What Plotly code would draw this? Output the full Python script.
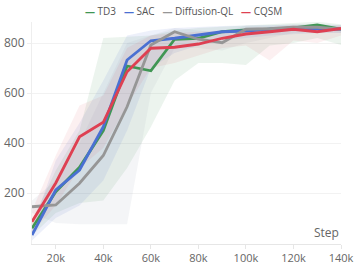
import plotly.graph_objects as go

steps = [10000, 20000, 30000, 40000, 50000, 60000, 70000, 80000, 90000, 100000, 110000, 120000, 130000, 140000]

td3_mean = [59, 205, 303, 450, 708, 689, 815, 819, 845, 852, 855, 860, 872, 855]
td3_low = [30, 120, 160, 170, 300, 464, 650, 720, 720, 712, 790, 800, 820, 792]
td3_up = [90, 290, 450, 820, 825, 830, 850, 860, 865, 870, 875, 878, 885, 875]

sac_mean = [32, 212, 292, 465, 732, 809, 819, 832, 845, 848, 855, 858, 855, 855]
sac_low = [10, 100, 150, 250, 450, 700, 760, 790, 810, 820, 830, 835, 840, 840]
sac_up = [60, 330, 480, 650, 830, 850, 860, 865, 868, 870, 872, 875, 875, 872]

dql_mean = [145, 152, 239, 350, 545, 792, 845, 815, 801, 855, 857, 863, 863, 855]
dql_low = [120, 80, 75, 75, 75, 600, 780, 780, 770, 800, 820, 840, 845, 840]
dql_up = [170, 250, 400, 600, 800, 830, 860, 850, 840, 870, 870, 875, 875, 870]

cqsm_mean = [85, 240, 425, 483, 685, 779, 783, 796, 819, 836, 845, 855, 845, 858]
cqsm_low = [40, 150, 300, 380, 550, 700, 720, 750, 780, 790, 730, 810, 800, 830]
cqsm_up = [130, 350, 550, 590, 780, 830, 840, 845, 850, 860, 865, 870, 865, 870]

x_tick_vals = [20000, 40000, 60000, 80000, 100000, 120000, 140000]
x_tick_text = ["20k", "40k", "60k", "80k", "100k", "120k", "140k"]
y_tick_vals = [200, 400, 600, 800]

series = [
    ("TD3", td3_mean, td3_low, td3_up, "rgb(64,150,84)", "rgba(64,150,84,0.10)"),
    ("SAC", sac_mean, sac_low, sac_up, "rgb(74,112,210)", "rgba(74,112,210,0.10)"),
    ("Diffusion-QL", dql_mean, dql_low, dql_up, "rgb(150,150,150)", "rgba(150,160,175,0.10)"),
    ("CQSM", cqsm_mean, cqsm_low, cqsm_up, "rgb(222,64,82)", "rgba(222,64,82,0.08)"),
]

fig = go.Figure()
for name, m, lo, up, col, fcol in series:
    fig.add_trace(go.Scatter(
        x=steps + steps[::-1], y=up + lo[::-1], fill="toself", fillcolor=fcol,
        line=dict(width=0), mode="lines", hoverinfo="skip", showlegend=False))
for name, m, lo, up, col, fcol in series:
    fig.add_trace(go.Scatter(x=steps, y=m, mode="lines", name=name,
                             line=dict(color=col, width=2.8)))

legend_html = "&nbsp;&nbsp;&nbsp;".join(
    f'<span style="color:{col}"><b>—</b></span> {name}' for name, m, lo, up, col, fcol in series)

fig.update_layout(
    width=357, height=269,
    margin=dict(l=32, r=16, t=22, b=25, autoexpand=False),
    paper_bgcolor="white", plot_bgcolor="white",
    font=dict(family="Open Sans", color="#666", size=11),
    showlegend=False,
)
fig.add_annotation(text=legend_html, x=0.491, xref="paper", xanchor="center",
                   y=1, yref="paper", yanchor="bottom", showarrow=False, yshift=2,
                   font=dict(size=10, color="#555"))
fig.update_xaxes(range=[10000, 140000], tickvals=x_tick_vals, ticktext=x_tick_text,
                 showgrid=False, showline=True, linecolor="#e6e6e6", linewidth=1,
                 ticks="outside", ticklen=4, tickcolor="#e6e6e6", zeroline=False,
                 automargin=False, tickfont=dict(size=11, color="#666"))
fig.update_yaxes(range=[-4, 884], tickvals=y_tick_vals,
                 showgrid=True, gridcolor="#f2f2f2", showline=True, linecolor="#eeeeee",
                 ticks="outside", ticklen=4, tickcolor="#eeeeee", zeroline=False,
                 automargin=False, tickfont=dict(size=12, color="#666"))
fig.add_annotation(text="Step", x=1, xref="paper", xanchor="right", y=0, yref="paper",
                   yanchor="bottom", showarrow=False, font=dict(size=12, color="#666"), yshift=1)
fig.write_html("out.html", config={"displayModeBar": False},
               post_script="document.body.style.margin='0';")
